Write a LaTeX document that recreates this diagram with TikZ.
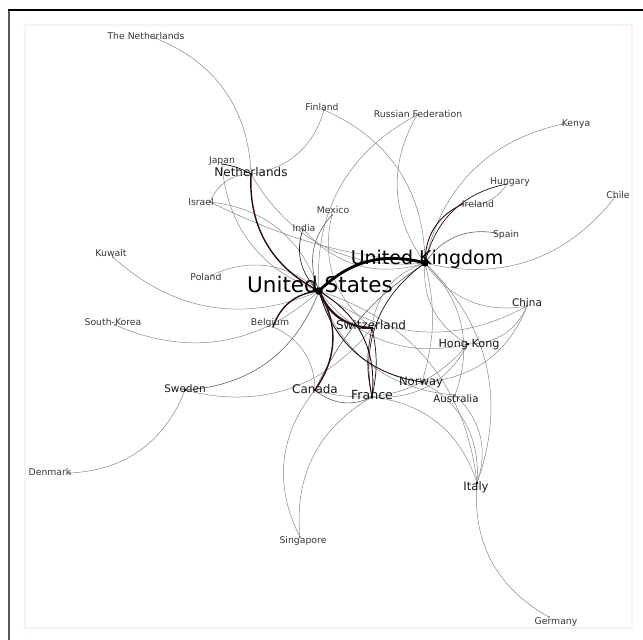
\documentclass[tikz,border=0pt]{standalone}
\usepackage{fontspec}
\setmainfont{DejaVu Sans}
\usepackage{xcolor}
\definecolor{edgegray}{RGB}{138,136,137}
\definecolor{edgemid}{RGB}{100,95,97}
\definecolor{edgedark}{RGB}{35,15,22}
\definecolor{panelline}{RGB}{250,242,242}
\definecolor{labelgray}{RGB}{55,55,55}

\begin{document}
\begin{tikzpicture}[
  x=1pt, y=1pt,
  every node/.style={inner sep=0pt, text depth=0pt, text height=0.73em},
  big/.style={font=\fontsize{21.5}{22}\selectfont, text=black},
  bigk/.style={font=\fontsize{19}{20}\selectfont, text=black},
  mid/.style={font=\fontsize{12}{13}\selectfont, text=black!90},
  small/.style={font=\fontsize{9.3}{10}\selectfont, text=labelgray},
  edge/.style={draw=edgegray, line width=0.5pt},
  medge/.style={draw=edgemid, line width=0.6pt},
  dedge/.style={draw=edgedark, line width=0.9pt},
  kedge/.style={draw=edgedark, line width=1.4pt},
  hedge/.style={draw=black, line width=2.8pt},
  bl/.style={bend left=33},
  br/.style={bend right=33}
]
  \useasboundingbox (0,0) rectangle (643,-640);
  \fill[white] (0,0) rectangle (643,-640);

  % Frame and panel
  \draw[panelline, line width=1.2pt, fill=white] (25,-25) rectangle (632,-628);
  \draw[black!65, line width=2pt] (8.5,-640) -- (8.5,-10);
  \draw[black, line width=1.2pt] (7.5,-10) -- (643,-10);

  % Node positions
  \coordinate (TNL) at (155,-38);
  \coordinate (FIN) at (324,-110);
  \coordinate (RUS) at (417,-115);
  \coordinate (KEN) at (563,-124);
  \coordinate (JAP) at (222,-164);
  \coordinate (NLD) at (251,-174);
  \coordinate (HUN) at (507,-184);
  \coordinate (CHL) at (615,-197);
  \coordinate (ISR) at (210,-202);
  \coordinate (IRL) at (463,-204);
  \coordinate (MEX) at (332,-215);
  \coordinate (SPA) at (496,-233);
  \coordinate (IND) at (303,-229);
  \coordinate (KUW) at (113,-257);
  \coordinate (UK)  at (425,-263);
  \coordinate (POL) at (212,-275);
  \coordinate (US)  at (319,-291);
  \coordinate (CHN) at (527,-306);
  \coordinate (SK)  at (115,-325);
  \coordinate (BEL) at (273,-327);
  \coordinate (SWI) at (372,-328);
  \coordinate (HK)  at (468,-344);
  \coordinate (SWE) at (185,-390);
  \coordinate (CAN) at (315,-390);
  \coordinate (FRA) at (372,-397);
  \coordinate (NOR) at (422,-382);
  \coordinate (AUS) at (455,-395);
  \coordinate (DEN) at (70,-473);
  \coordinate (ITA) at (477,-483);
  \coordinate (SIN) at (300,-537);
  \coordinate (GER) at (549,-617);

  % Edges to the United States
  \draw[edge] (JAP) to[br] (US);
  \draw[edge] (ISR) to[bl] (US);
  \draw[medge] (MEX) to[br] (US);
  \draw[edge] (RUS) to[br] (US);
  \draw[edge] (KUW) to[br] (US);
  \draw[edge] (POL) to[bl] (US);
  \draw[edge] (SK) to[br] (US);
  \draw[medge] (SWE) to[br] (US);
  \draw[edge] (US) to[br] (HK);
  \draw[edge] (US) to[br] (AUS);
  \draw[edge] (US) to[bl] (ITA);
  \draw[edge] (US) to[br] (CHN);
  \draw[dedge, line width=0.6pt] (IND) to[br] (US);

  % Edges to the United Kingdom
  \draw[edge] (NLD) to[br] (UK);
  \draw[edge] (FIN) to[bl] (UK);
  \draw[edge] (RUS) to[br] (UK);
  \draw[edge] (KEN) to[br] (UK);
  \draw[medge] (SPA) to[br] (UK);
  \draw[edge] (CHL) to[bl] (UK);
  \draw[edge] (CHN) to[bl] (UK);
  \draw[edge] (IND) to[br] (UK);
  \draw[edge] (ISR) to[bend right=10] (UK);
  \draw[edge] (HK) to[bl] (UK);
  \draw[edge] (NOR) to[bend right=15] (UK);
  \draw[edge] (AUS) to[br] (UK);
  \draw[edge] (ITA) to[br] (UK);
  \draw[edge] (SWI) to[bl] (UK);
  \draw[medge] (CAN) to[bend left=15] (UK);

  % Other edges
  \draw[edge] (TNL) to[bl] (NLD);
  \draw[edge] (ISR) to[bl] (NLD);
  \draw[edge] (FIN) to[bl] (NLD);
  \draw[dedge, line width=0.7pt] (JAP) to[bend left=10] (NLD);
  \draw[edge] (HUN) to[bl] (IRL);
  \draw[edge] (MEX) to[br] (SWI);
  \draw[edge] (SWE) to[br] (SWI);
  \draw[edge] (SWE) to[bl] (DEN);
  \draw[edge] (BEL) to[bl] (CAN);
  \draw[edge] (CAN) to[br] (SIN);
  \draw[edge] (FRA) to[br] (SIN);
  \draw[edge] (FRA) to[bl] (ITA);
  \draw[edge] (ITA) to[br] (GER);
  \draw[medge] (CAN) to[br] (FRA);
  \draw[edge] (CAN) to[br] (HK);
  \draw[edge] (FRA) to[br] (HK);
  \draw[edge] (AUS) to[bl] (ITA);
  \draw[edge] (NOR) to[bl] (ITA);
  \draw[edge] (CHN) to[bl] (HK);
  \draw[edge] (CHN) to[bl] (NOR);

  % Strong ties
  \draw[dedge, line width=0.7pt] (SWI) to[bend left=12] (FRA);
  \draw[dedge, line width=0.7pt] (SWI) to[bend right=12] (FRA);
  \draw[dedge, line width=0.7pt] (FRA) to[bl] (UK);
  \draw[dedge, line width=0.7pt] (HUN) to[br] (UK);
  \draw[dedge] (IRL) to[br] (UK);
  \draw[dedge] (US) to[bl] (FRA);
  \draw[dedge] (US) to[br] (NOR);
  \draw[kedge] (NLD) to[br] (US);
  \draw[kedge] (BEL) to[bl] (US);
  \draw[kedge] (US) to[bl] (CAN);
  \draw[kedge, line width=2.2pt] (US) to[br] (SWI);
  \draw[hedge] (US) to[bend left=30] (UK);

  % Dots
  \foreach \n in {TNL,FIN,RUS,KEN,JAP,HUN,CHL,ISR,IRL,MEX,SPA,IND,KUW,POL,CHN,SK,BEL,AUS,DEN,SIN,GER}
    \fill[black!70] (\n) circle (0.8);
  \foreach \n in {NLD,SWI,HK,SWE,CAN,FRA,NOR,ITA}
    \fill[black] (\n) circle (1.4);
  \fill[black] (US) circle (3.8);
  \fill[black] (UK) circle (3.6);

  % Labels
  \node[small] (TNLl) at (146,-36)  {The Netherlands};
  \node[small] (FINl) at (322,-107) {Finland};
  \node[small] (RUSl) at (418,-114) {Russian Federation};
  \node[small] (KENl) at (576,-123) {Kenya};
  \node[small] (JAPl) at (222,-160) {Japan};
  \node[mid]   (NLDl) at (251,-173) {Netherlands};
  \node[small] (HUNl) at (510,-181) {Hungary};
  \node[small] (CHLl) at (618,-195) {Chile};
  \node[small] (ISRl) at (201,-202) {Israel};
  \node[small] (IRLl) at (478,-204) {Ireland};
  \node[small] (MEXl) at (333,-210) {Mexico};
  \node[small] (SPAl) at (506,-234) {Spain};
  \node[small] (INDl) at (304,-228) {India};
  \node[small] (KUWl) at (111,-253) {Kuwait};
  \node[bigk]  (UKl)  at (427,-261) {United Kingdom};
  \node[small] (POLl) at (206,-277) {Poland};
  \node[big]   (USl)  at (320,-289) {United States};
  \node[mid, font=\fontsize{10.5}{11}\selectfont] (CHNl) at (527,-303) {China};
  \node[small] (SKl)  at (113,-322) {South-Korea};
  \node[small] (BELl) at (270,-322) {Belgium};
  \node[mid]   (SWIl) at (371,-326) {Switzerland};
  \node[mid, font=\fontsize{11.2}{12}\selectfont] (HKl) at (469,-344) {Hong Kong};
  \node[mid, font=\fontsize{10.5}{11}\selectfont] (SWEl) at (185,-389) {Sweden};
  \node[mid]   (CANl) at (315,-390) {Canada};
  \node[mid, font=\fontsize{12.6}{13}\selectfont] (FRAl) at (372,-396) {France};
  \node[mid, font=\fontsize{11.6}{12}\selectfont] (NORl) at (421,-382) {Norway};
  \node[mid, font=\fontsize{10.2}{11}\selectfont] (AUSl) at (456,-399) {Australia};
  \node[small] (DENl) at (50,-472)  {Denmark};
  \node[mid, font=\fontsize{11.6}{12}\selectfont] (ITAl) at (476,-487) {Italy};
  \node[small] (SINl) at (303,-540) {Singapore};
  \node[small] (GERl) at (556,-621) {Germany};
\end{tikzpicture}
\end{document}
